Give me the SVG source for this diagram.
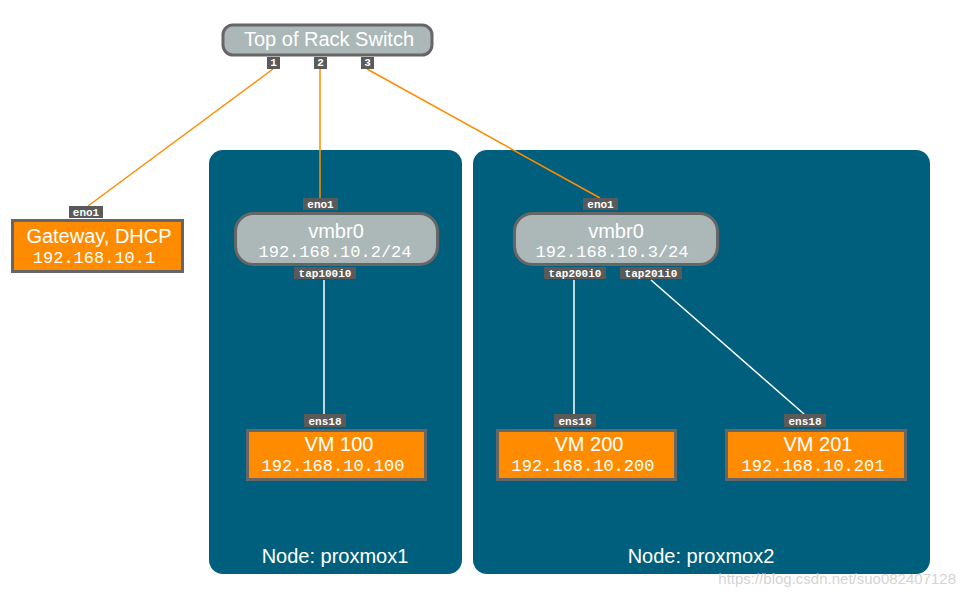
<svg xmlns="http://www.w3.org/2000/svg" width="964" height="598" viewBox="0 0 964 598">
<style>
.cont{fill:#005f7c}
.sw{fill:#abb8b7;stroke:#666;stroke-width:3}
.vm{fill:#ff8c00;stroke:#666;stroke-width:3}
.port{fill:#5a5a5a}
.pt{font-family:"Liberation Mono",monospace;font-size:11px;fill:#fff;text-anchor:middle;font-weight:bold}
.t{font-family:"Liberation Sans",Arial,sans-serif;font-size:20px;fill:#fff;text-anchor:middle}
.ip{font-family:"Liberation Mono",monospace;font-size:17px;fill:#fff;text-anchor:middle}
.or{stroke:#ff8c00;stroke-width:1.5;fill:none}
.wh{stroke:#fff;stroke-width:1.5;fill:none}
</style>
<rect width="964" height="598" fill="#fff"/>
<g id="proxmox1">
<rect class="cont" x="209" y="150" width="253" height="424" rx="14"/>
<text class="t" x="335" y="563">Node: proxmox1</text>
</g>
<g id="proxmox2">
<rect class="cont" x="473" y="150" width="457" height="424" rx="14"/>
<text class="t" x="701" y="563">Node: proxmox2</text>
</g>
<g id="connectors">
<line class="or" x1="273" y1="69" x2="88" y2="206"/>
<line class="or" x1="320" y1="69" x2="320" y2="198"/>
<line class="or" x1="367" y1="69" x2="600" y2="198"/>
<line class="wh" x1="324" y1="280" x2="324" y2="414"/>
<line class="wh" x1="574" y1="280" x2="574" y2="414"/>
<line class="wh" x1="651" y1="280" x2="804" y2="414"/>
</g>
<g id="switch">
<rect class="sw" x="223" y="25" width="209" height="30" rx="10"/>
<text class="t" x="329" y="46">Top of Rack Switch</text>
<rect class="port" x="267" y="57" width="13" height="12"/>
<text class="pt" x="273.5" y="66">1</text>
<rect class="port" x="314" y="57" width="13" height="12"/>
<text class="pt" x="320.5" y="66">2</text>
<rect class="port" x="361" y="57" width="13" height="12"/>
<text class="pt" x="367.5" y="66">3</text>
</g>
<g id="gateway">
<rect class="port" x="69" y="206" width="34" height="12"/>
<text class="pt" x="86" y="215.5">eno1</text>
<rect class="vm" x="12.5" y="220.5" width="170" height="51"/>
<text class="t" x="99" y="243">Gateway, DHCP</text>
<text class="ip" x="94" y="263">192.168.10.1</text>
</g>
<g id="vmbr0-1">
<rect class="port" x="303" y="198" width="35" height="12"/>
<text class="pt" x="320.5" y="207.5">eno1</text>
<rect class="sw" x="235.5" y="213.5" width="202" height="51" rx="18"/>
<text class="t" x="336" y="238">vmbr0</text>
<text class="ip" x="335" y="257">192.168.10.2/24</text>
<rect class="port" x="294" y="267" width="62" height="12"/>
<text class="pt" x="325" y="276.5">tap100i0</text>
</g>
<g id="vmbr0-2">
<rect class="port" x="583" y="198" width="35" height="12"/>
<text class="pt" x="600.5" y="207.5">eno1</text>
<rect class="sw" x="514.5" y="213.5" width="203" height="51" rx="18"/>
<text class="t" x="616" y="238">vmbr0</text>
<text class="ip" x="612" y="257">192.168.10.3/24</text>
<rect class="port" x="544" y="267" width="62" height="12"/>
<text class="pt" x="575" y="276.5">tap200i0</text>
<rect class="port" x="620" y="267" width="62" height="12"/>
<text class="pt" x="651" y="276.5">tap201i0</text>
</g>
<g id="vm100">
<rect class="port" x="304" y="414" width="42" height="13"/>
<text class="pt" x="325" y="424.5">ens18</text>
<rect class="vm" x="247.5" y="430.5" width="178" height="49"/>
<text class="t" x="339" y="451">VM 100</text>
<text class="ip" x="333" y="471">192.168.10.100</text>
</g>
<g id="vm200">
<rect class="port" x="554" y="414" width="42" height="13"/>
<text class="pt" x="575" y="424.5">ens18</text>
<rect class="vm" x="497.5" y="430.5" width="178" height="49"/>
<text class="t" x="589" y="451">VM 200</text>
<text class="ip" x="583" y="471">192.168.10.200</text>
</g>
<g id="vm201">
<rect class="port" x="784" y="414" width="42" height="13"/>
<text class="pt" x="805" y="424.5">ens18</text>
<rect class="vm" x="726.5" y="430.5" width="179" height="49"/>
<text class="t" x="818" y="451">VM 201</text>
<text class="ip" x="813" y="471">192.168.10.201</text>
</g>
<text x="956" y="584" font-family="Liberation Sans,Arial,sans-serif" font-size="15" fill="#c8c8c8" fill-opacity="0.8" text-anchor="end">https://blog.csdn.net/suo082407128</text>
</svg>
